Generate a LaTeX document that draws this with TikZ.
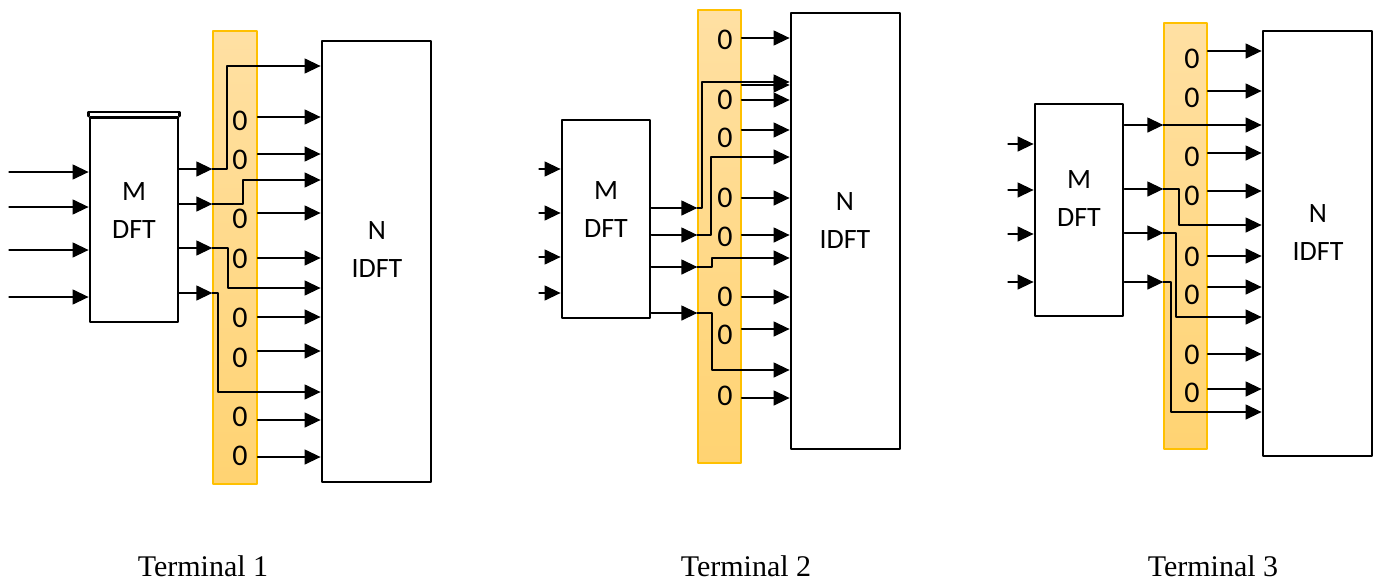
\documentclass[tikz,border=0pt]{standalone}
\usepackage{fontspec}
\setmainfont{Carlito}
\newfontfamily\termfont{Liberation Serif}
\usetikzlibrary{arrows.meta}

\definecolor{stripline}{HTML}{FFC000}
\definecolor{striptop}{HTML}{FFE0A3}
\definecolor{stripbot}{HTML}{FFD372}

\begin{document}
\begin{tikzpicture}[x=1pt, y=-1pt, line cap=round, line join=round,
    >={Triangle[length=16pt,width=15pt]},
    box/.style={draw, line width=2.8pt, fill=white, inner sep=0pt},
    strip/.style={draw=stripline, line width=1.3pt, top color=striptop, bottom color=stripbot, inner sep=0pt},
    arr/.style={->, line width=1.3pt},
    zero/.style={font=\fontsize{30}{36}\selectfont},
    lbl/.style={align=center, font=\fontsize{28}{38}\selectfont},
    term/.style={anchor=base, inner sep=0pt, font=\termfont\fontsize{30}{36}\selectfont}]
  \useasboundingbox (0,0) rectangle (1378,582);

  % Terminal 1: blocks
  \node[strip, minimum width=44, minimum height=453] (strip1) at (235,257.5) {};
  \node[box, minimum width=88, minimum height=204.5] (dft1) at (134,219.75) {};
  \draw[line width=2.4pt] (dft1.north west) -- ++(0,-4) -| (dft1.north east);
  \node[box, minimum width=109, minimum height=441] (idft1) at (376.5,261.5) {};
  \node[lbl] (dft1t) at (134,211) {M\\DFT};
  \node[lbl] (idft1t) at (377,250) {N\\IDFT};

  % Terminal 1: inputs and DFT outputs
  \foreach \y in {172,207,250,297}
    \draw[arr] (9,\y) -- (dft1.west |- 0,\y);
  \foreach \y in {169,204,248,293}
    \draw[arr] (dft1.east |- 0,\y) -- (strip1.west |- 0,\y);

  % Terminal 1: zeros
  \foreach \y [count=\i] in {121,160,219,259,318,358,417,456}
    \node[zero] (z1\i) at (240,\y) {0};
  \foreach \y in {117,154,213,258,317,351,420,457}
    \draw[arr] (strip1.east |- 0,\y) -- (idft1.west |- 0,\y);

  % Terminal 1: mapped data
  \draw[arr] (strip1.west |- 0,169) -- (227,169) |- (idft1.west |- 0,66);
  \draw[arr] (strip1.west |- 0,204) -- (243,204) |- (idft1.west |- 0,180);
  \draw[arr] (strip1.west |- 0,248) -- (228,248) |- (idft1.west |- 0,288);
  \draw[arr] (strip1.west |- 0,293) -- (218,293) |- (idft1.west |- 0,392);

  % Terminal 2: blocks
  \node[strip, minimum width=43, minimum height=453] (strip2) at (719.5,236.5) {};
  \node[box, minimum width=88, minimum height=198] (dft2) at (606,219) {};
  \node[box, minimum width=109, minimum height=436] (idft2) at (845.5,231) {};
  \node[lbl] (dft2t) at (606,210) {M\\DFT};
  \node[lbl] (idft2t) at (845,221) {N\\IDFT};

  % Terminal 2: inputs and DFT outputs
  \foreach \y in {169,213,257,293}
    \draw[arr] (539,\y) -- (dft2.west |- 0,\y);
  \foreach \y in {208,235,267,313}
    \draw[arr] (dft2.east |- 0,\y) -- (strip2.west |- 0,\y);

  % Terminal 2: zeros
  \foreach \y [count=\i] in {40,100,138,198,237,297,335,396}
    \node[zero] (z2\i) at (725,\y) {0};
  \foreach \y in {38,85,100,130,198,235,297,329,398}
    \draw[arr] (strip2.east |- 0,\y) -- (idft2.west |- 0,\y);

  % Terminal 2: mapped data
  \draw[arr] (strip2.west |- 0,208) -- (702,208) |- (idft2.west |- 0,82);
  \draw[arr] (strip2.west |- 0,235) -- (711,235) |- (idft2.west |- 0,157);
  \draw[arr] (strip2.west |- 0,267) -- (712,267) |- (idft2.west |- 0,258);
  \draw[arr] (strip2.west |- 0,313) -- (712,313) |- (idft2.west |- 0,370);

  % Terminal 3: blocks
  \node[strip, minimum width=43, minimum height=426] (strip3) at (1185.5,236) {};
  \node[box, minimum width=88, minimum height=212] (dft3) at (1079,210) {};
  \node[box, minimum width=109, minimum height=425] (idft3) at (1317.5,243.5) {};
  \node[lbl] (dft3t) at (1079,199) {M\\DFT};
  \node[lbl] (idft3t) at (1318,233) {N\\IDFT};

  % Terminal 3: inputs and DFT outputs
  \foreach \y in {144,190,234,282}
    \draw[arr] (1008,\y) -- (dft3.west |- 0,\y);
  \foreach \y in {125,189,233,282}
    \draw[arr] (dft3.east |- 0,\y) -- (strip3.west |- 0,\y);

  % Terminal 3: zeros
  \foreach \y [count=\i] in {59,98,157,196,257,295,355,393}
    \node[zero] (z3\i) at (1192,\y) {0};
  \foreach \y in {51,91,153,191,256,287,354,389}
    \draw[arr] (strip3.east |- 0,\y) -- (idft3.west |- 0,\y);

  % Terminal 3: mapped data
  \draw[arr] (strip3.west |- 0,125) -- (idft3.west |- 0,125);
  \draw[arr] (strip3.west |- 0,189) -- (1179,189) |- (idft3.west |- 0,225);
  \draw[arr] (strip3.west |- 0,233) -- (1176,233) |- (idft3.west |- 0,317);
  \draw[arr] (strip3.west |- 0,282) -- (1171,282) |- (idft3.west |- 0,412);

  % Captions
  \node[term] (term1) at (203,576) {Terminal 1};
  \node[term] (term2) at (746,576) {Terminal 2};
  \node[term] (term3) at (1213,576) {Terminal 3};
\end{tikzpicture}
\end{document}
